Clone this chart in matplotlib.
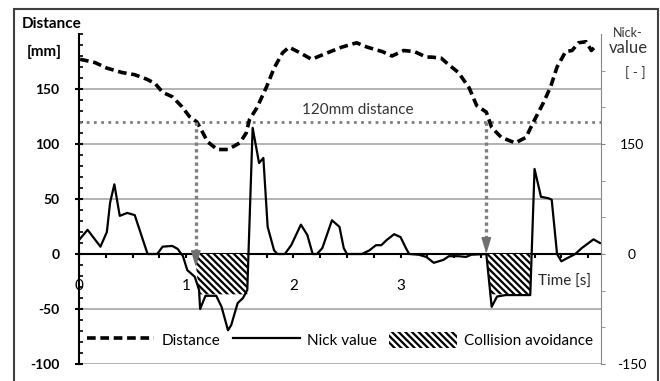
import matplotlib
matplotlib.use("Agg")
import matplotlib.pyplot as plt
from matplotlib.lines import Line2D
from matplotlib.patches import Polygon, Rectangle
from matplotlib.ticker import FixedLocator, MultipleLocator

plt.rcParams["font.family"] = ["Lato", "DejaVu Sans"]
plt.rcParams["hatch.linewidth"] = 1.6

# distance to the obstacle [mm] over time [s]
dist_t = [0.01, 0.06, 0.15, 0.26, 0.40, 0.52, 0.63, 0.71, 0.78, 0.87, 0.96,
          1.03, 1.10, 1.14, 1.20, 1.29, 1.39, 1.50, 1.56, 1.59, 1.66, 1.75,
          1.82, 1.90, 1.96, 2.06, 2.17, 2.32, 2.45, 2.59, 2.69, 2.83, 2.92,
          3.03, 3.13, 3.24, 3.29, 3.38, 3.45, 3.54, 3.64, 3.71, 3.80, 3.85,
          3.94, 4.07, 4.17, 4.24, 4.33, 4.40, 4.46, 4.54, 4.60, 4.66, 4.73,
          4.78, 4.83]
dist_mm = [177, 176, 174, 169, 165, 163, 159, 155, 147, 143, 134,
           125, 120, 113, 102, 95, 95, 101, 110, 122, 133, 152,
           169, 183, 188, 183, 177, 183, 188, 192, 188, 184, 180,
           185, 184, 179, 179, 178, 172, 165, 151, 135, 129, 115,
           106, 101, 106, 120, 137, 152, 170, 184, 185, 192, 193,
           185, 190]

# nick value [-] over time [s]
nick_t = [0.00, 0.08, 0.20, 0.26, 0.29, 0.33, 0.38, 0.45, 0.52, 0.59, 0.64,
          0.73, 0.78, 0.87, 0.92, 0.97, 1.01, 1.08, 1.12, 1.13, 1.18, 1.28,
          1.33, 1.39, 1.42, 1.48, 1.53, 1.57, 1.62, 1.68, 1.72, 1.76, 1.82,
          1.85, 1.92, 1.98, 2.07, 2.13, 2.18, 2.22, 2.27, 2.36, 2.43, 2.47,
          2.50, 2.64, 2.71, 2.77, 2.82, 2.87, 2.94, 3.00, 3.05, 3.08, 3.17,
          3.24, 3.31, 3.40, 3.45, 3.54, 3.61, 3.66, 3.80, 3.85, 3.90, 3.98,
          4.21, 4.25, 4.31, 4.38, 4.41, 4.46, 4.50, 4.55, 4.63, 4.69, 4.80,
          4.86]
nick_val = [19, 33, 10, 30, 70, 95, 52, 56, 53, 22, 0,
            0, 10, 11, 7, -3, -22, -31, -49, -75, -57, -57,
            -72, -104, -97, -67, -60, -49, 172, 124, 131, 37, 5,
            0, 0, 12, 40, 26, 0, 0, 8, 46, 37, 8,
            0, 0, 5, 12, 12, 19, 27, 23, 8, 0, -1,
            -4, -12, -8, -3, -3, -4, -1, 0, -72, -58, -56,
            -56, 116, 78, 76, 74, 0, -10, -6, 0, 8, 20,
            15]

# collision avoidance intervals [s] and their level on the nick axis
avoid_start = [1.08, 3.80]
avoid_end = [1.57, 4.21]
avoid_level = -55

threshold_mm = 120
arrow_t = [1.09, 3.80]
arrow_tip_mm = [-12, 0]

left_ticks = [-100, -50, 0, 50, 100, 150]
right_ticks = [-150, 0, 150]
x_ticks = [0, 1, 2, 3, 4]

HATCH = "\\\\\\\\\\"

fig = plt.figure(figsize=(6.6, 3.81), dpi=100)
ax = fig.add_axes([79 / 660, 17 / 381, 522 / 660, 330 / 381])
ax2 = ax.twinx()

# distance (left axis)
ax.plot(dist_t, dist_mm, color="black", lw=2.6, dashes=(2.4, 1.3),
        solid_capstyle="butt", zorder=3)
ax.axhline(threshold_mm, color="#7f7f7f", lw=2.0, ls=(0, (1, 1.6)), zorder=2)
ax.text(2.6, 131, "120mm distance", ha="center", va="center",
        fontsize=11, color="#333333")

ax.set_xlim(0, 4.87)
ax.set_ylim(-100, 200)
ax.set_xticks(x_ticks, labels=[str(v) for v in x_ticks], color="#404040")
ax.xaxis.set_minor_locator(MultipleLocator(0.25))
ax.set_yticks(left_ticks, labels=[str(v) for v in left_ticks],
              fontweight="bold", fontsize=10)
ax.yaxis.set_minor_locator(MultipleLocator(10))
ax.yaxis.grid(True, color="#a6a6a6", lw=1.2)
ax.set_axisbelow(True)

ax.spines["bottom"].set_position(("data", 0))
ax.spines["bottom"].set_linewidth(1.5)
ax.spines["left"].set_linewidth(1.5)
for side in ("top", "right"):
    ax.spines[side].set_visible(False)
ax.tick_params(axis="x", which="both", direction="out", length=3, width=1.5,
               labelsize=11, pad=15)
ax.tick_params(axis="y", which="major", direction="inout", length=6,
               width=1.5, pad=11)
ax.tick_params(axis="y", which="minor", direction="in", length=3, width=1.2)

# nick value (right axis)
for s, e in zip(avoid_start, avoid_end):
    ax2.add_patch(Polygon([(s, 0), (s + 0.04, avoid_level), (e, avoid_level),
                           (e, 0)], closed=True, facecolor="white",
                          edgecolor="black", lw=0, hatch=HATCH, zorder=2))
ax2.plot(nick_t, nick_val, color="black", lw=1.6, zorder=3)

for t, tip in zip(arrow_t, arrow_tip_mm):
    ax2.plot([t, t], [threshold_mm, tip + 10], transform=ax.transData,
             color="#7f7f7f", lw=2.4, ls=(0, (1, 1)), zorder=4)
    ax2.annotate("", xy=(t, tip), xytext=(t, tip + 10),
                 xycoords=ax.transData, textcoords=ax.transData,
                 arrowprops=dict(arrowstyle="-|>,head_length=1.0,head_width=0.3",
                                 color="#6f6f6f", lw=1, shrinkA=0, shrinkB=0),
                 zorder=4)

ax2.text(4.53, -38, "Time [s]", ha="center", va="center", fontsize=11,
         color="#262626")

ax2.set_ylim(-150, 300)
ax2.set_yticks(right_ticks, labels=[str(v) for v in right_ticks], ha="center")
ax2.yaxis.set_minor_locator(FixedLocator([-100, -50, 50, 100, 200, 250]))
for side in ("top", "bottom", "left"):
    ax2.spines[side].set_visible(False)
ax2.spines["right"].set_color("#868686")
ax2.tick_params(axis="y", which="both", direction="out", length=3,
                color="#868686", labelsize=10, pad=19)

handles = [
    Line2D([], [], color="black", lw=2.6, dashes=(2.4, 1.3)),
    Line2D([], [], color="black", lw=1.6),
    Rectangle((0, 0), 1, 1, facecolor="white", edgecolor="black", lw=0,
              hatch=HATCH),
]
ax2.legend(handles, ["Distance", "Nick value", "Collision avoidance"],
           loc="center", bbox_to_anchor=(0.5, 0.073), ncol=3, frameon=False,
           fontsize=11, handlelength=4.4, handleheight=1.3,
           handletextpad=0.5, columnspacing=0.8, borderpad=0)

fig.text(22 / 660, 1 - 24 / 381, "Distance", ha="left", va="center",
         fontsize=11, fontweight="bold")
fig.text(27 / 660, 1 - 52 / 381, "[mm]", ha="left", va="center",
         fontsize=11, fontweight="bold")
fig.text(628 / 660, 1 - 33 / 381, "Nick-", ha="center", va="center",
         fontsize=9, color="#333333")
fig.text(628 / 660, 1 - 48 / 381, "value", ha="center", va="center",
         fontsize=12, color="#333333")
fig.text(635 / 660, 1 - 73 / 381, "[ - ]", ha="center", va="center",
         fontsize=10, color="#333333")

fig.add_artist(Rectangle((14 / 660, -0.05), 644 / 660, 1.05 - 9 / 381,
                         transform=fig.transFigure, fill=False,
                         edgecolor="#404040", lw=1.5))

fig.savefig("out.png", dpi=100)
